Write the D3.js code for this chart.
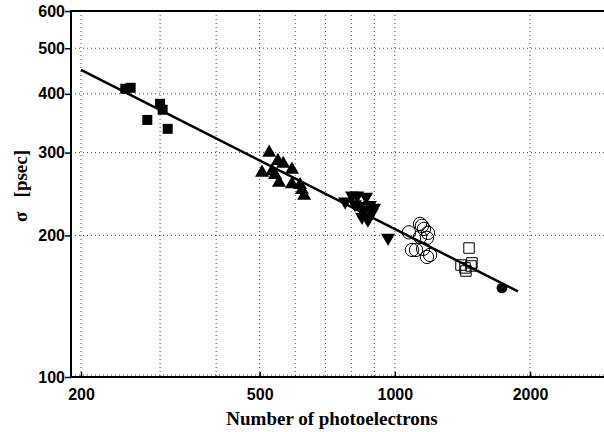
<!DOCTYPE html>
<html lang="en">
<head>
<meta charset="UTF-8">
<title>Timing resolution vs photoelectrons</title>
<script src="https://d3js.org/d3.v7.min.js"></script>
<style>
  body { margin: 0; background: #fff; }
  svg { display: block; }
</style>
</head>
<body>
<div id="chart"></div>
<script>
// data (x = photoelectrons, y = sigma in psec)
const sqX = [251, 258, 281, 300, 304, 312];
const sqY = [410, 412, 352, 381, 370, 337];

const triUpX = [525, 549, 564, 590, 506, 533, 541, 552, 590, 615, 621, 628];
const triUpY = [300, 288, 284, 276, 272, 274, 269, 259, 257, 256, 250, 243];

const triDnX = [775, 803, 824, 863, 815, 836, 854, 880, 889, 899, 845, 871, 966];
const triDnY = [236, 243, 243, 241.5, 233, 231, 226.6, 232, 224, 229, 219, 216, 197.6];

const circX = [1075, 1138, 1161, 1185, 1179, 1138, 1092, 1115, 1156, 1198, 1179, 1149];
const circY = [203, 211.6, 206.5, 202.5, 197.6, 198.6, 186.3, 186.3, 187.2, 181.8, 180, 209.6];

const osqX = [1463, 1404, 1433, 1440, 1485, 1478];
const osqY = [188, 173, 170.6, 168, 174.8, 172.2];

const dotX = [1732];
const dotY = [154.6];

const fitX = [200, 1880];
const fitY = [450, 152];

const xTicks = [200, 500, 1000, 2000];
const yTicks = [100, 200, 300, 400, 500, 600];
const xGrid = [200, 300, 400, 500, 600, 700, 800, 900, 1000, 2000];
const yGrid = [200, 300, 400, 500];

const width = 604, height = 432;
const plotLeft = 71, plotTop = 11, plotBottom = 377;

const svg = d3.select("#chart").append("svg")
    .attr("width", width)
    .attr("height", height);

// log scales, anchored on tick positions in the picture
const x = d3.scaleLog().domain([200, 2000]).range([81, 530]);
const y = d3.scaleLog().domain([100, 600]).range([plotBottom, plotTop]);

const pts = (xs, ys) => xs.map((v, i) => [v, ys[i]]);

// grid
svg.append("g").selectAll("line")
  .data(xGrid)
  .join("line")
    .attr("x1", d => x(d)).attr("x2", d => x(d))
    .attr("y1", plotTop).attr("y2", plotBottom)
    .attr("stroke", "#444")
    .attr("stroke-width", 1)
    .attr("stroke-dasharray", "1,3");

svg.append("g").selectAll("line")
  .data(yGrid)
  .join("line")
    .attr("x1", plotLeft).attr("x2", width)
    .attr("y1", d => y(d)).attr("y2", d => y(d))
    .attr("stroke", "#444")
    .attr("stroke-width", 1)
    .attr("stroke-dasharray", "1,3");

// dotted line hugging the bottom axis
svg.append("line")
    .attr("x1", plotLeft).attr("x2", width)
    .attr("y1", plotBottom - 2).attr("y2", plotBottom - 2)
    .attr("stroke", "#444")
    .attr("stroke-dasharray", "1,3");

// frame
svg.append("path")
    .attr("d", `M${width},${plotTop}H${plotLeft}V${plotBottom}H${width}`)
    .attr("fill", "none")
    .attr("stroke", "#000")
    .attr("stroke-width", 2);

// x axis
const xAxis = d3.axisBottom(x)
    .tickValues(xTicks)
    .tickFormat(d3.format("d"))
    .tickSizeInner(-5)
    .tickSizeOuter(0)
    .tickPadding(12);
const gx = svg.append("g")
    .attr("transform", `translate(0,${plotBottom})`)
    .call(xAxis);
gx.select(".domain").remove();
gx.selectAll("line").attr("stroke", "#000").attr("stroke-width", 1.5);
gx.selectAll("text")
    .attr("font-family", "'Liberation Sans', Arial, sans-serif")
    .attr("font-weight", "bold")
    .attr("font-size", 16)
    .attr("fill", "#000");

// y axis
const yAxis = d3.axisLeft(y)
    .tickValues(yTicks)
    .tickFormat(d3.format("d"))
    .tickSizeInner(6)
    .tickSizeOuter(0)
    .tickPadding(0);
const gy = svg.append("g")
    .attr("transform", `translate(${plotLeft},0)`)
    .call(yAxis);
gy.select(".domain").remove();
gy.selectAll("line").attr("stroke", "#000").attr("stroke-width", 1.5);
gy.selectAll("text")
    .attr("font-family", "'Liberation Sans', Arial, sans-serif")
    .attr("font-weight", "bold")
    .attr("font-size", 16)
    .attr("fill", "#000");

// fit line
svg.append("path")
    .datum(pts(fitX, fitY))
    .attr("d", d3.line().x(d => x(d[0])).y(d => y(d[1])))
    .attr("fill", "none")
    .attr("stroke", "#000")
    .attr("stroke-width", 2.5);

// markers
function drawSymbols(data, type, size, filled) {
  svg.append("g").selectAll("path")
    .data(data)
    .join("path")
      .attr("transform", d => `translate(${x(d[0])},${y(d[1])})`)
      .attr("d", d3.symbol().type(type).size(size))
      .attr("fill", filled ? "#000" : "none")
      .attr("stroke", "#000")
      .attr("stroke-width", filled ? 0 : 1);
}

const triDown = {
  draw(ctx, size) {
    const s = Math.sqrt(size / (Math.sqrt(3) / 4));
    const h = s * Math.sqrt(3) / 2;
    ctx.moveTo(-s / 2, -h / 3);
    ctx.lineTo(s / 2, -h / 3);
    ctx.lineTo(0, 2 * h / 3);
    ctx.closePath();
  }
};

drawSymbols(pts(sqX, sqY), d3.symbolSquare, 100, true);
drawSymbols(pts(triUpX, triUpY), d3.symbolTriangle, 85, true);
drawSymbols(pts(triDnX, triDnY), triDown, 85, true);
drawSymbols(pts(circX, circY), d3.symbolCircle, 140, false);
drawSymbols(pts(osqX, osqY), d3.symbolSquare, 110, false);
drawSymbols(pts(dotX, dotY), d3.symbolCircle, 90, true);

// axis titles
svg.append("text")
    .attr("x", 332)
    .attr("y", 425)
    .attr("text-anchor", "middle")
    .attr("font-family", "'Liberation Serif', 'Times New Roman', serif")
    .attr("font-weight", "bold")
    .attr("font-size", 19)
    .text("Number of photoelectrons");

svg.append("text")
    .attr("transform", "translate(27,186) rotate(-90)")
    .attr("text-anchor", "middle")
    .attr("font-family", "'Liberation Serif', 'Times New Roman', serif")
    .attr("font-weight", "bold")
    .attr("font-size", 19)
    .attr("xml:space", "preserve")
    .text("σ   [psec]");
</script>
</body>
</html>
